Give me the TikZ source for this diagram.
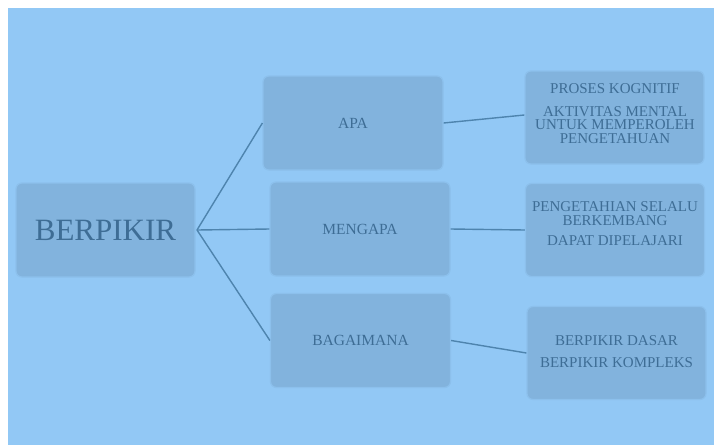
\documentclass[tikz,border=0pt]{standalone}
\usepackage{fontspec}
\setmainfont{Liberation Serif}
\begin{document}
\definecolor{bgblue}{HTML}{92C8F5}
\definecolor{boxfill}{HTML}{82B3DD}
\definecolor{boxedge}{HTML}{8CC0EC}
\definecolor{inktext}{HTML}{3E6D95}
\definecolor{linkline}{HTML}{4E84AE}
\begin{tikzpicture}[x=1pt,y=-1pt,
  card/.style={draw=boxedge,line width=1.2pt,fill=boxfill,rounded corners=6pt,
    inner sep=0pt,text=inktext,align=center},
  midcard/.style={card,minimum width=180pt,minimum height=94pt,font=\fontsize{15.5}{16}\selectfont},
  sidecard/.style={card,minimum width=179pt,minimum height=93pt},
  sidetext/.style={inner sep=0pt,text=inktext,align=center,font=\fontsize{15}{13.5}\selectfont},
  link/.style={draw=linkline,line width=1.4pt}]
\useasboundingbox (0,0) rectangle (719,445);
\fill[white] (0,0) rectangle (719,445);
\fill[bgblue] (8,8) rectangle (714,445);

% root
\node[card,minimum width=179pt,minimum height=94pt,font=\fontsize{31}{34}\selectfont] (root) at (105.5,230) {BERPIKIR};

% middle column
\node[midcard] (apa) at (353,123) {APA};
\node[midcard] (mengapa) at (360,229) {MENGAPA};
\node[midcard] (bagaimana) at (360.5,340.5) {BAGAIMANA};

% right column: boxes, then their texts
\node[sidecard] (r1) at (614.5,117.5) {};
\node[sidecard] (r2) at (615,230) {};
\node[sidecard] (r3) at (616.5,353) {};
\node[sidetext] (r1text) at (615,113.5) {PROSES KOGNITIF\\[9.5pt]AKTIVITAS MENTAL\\UNTUK MEMPEROLEH\\PENGETAHUAN};
\node[sidetext] (r2text) at (615,223.5) {PENGETAHIAN SELALU\\BERKEMBANG\\[6.5pt]DAPAT DIPELAJARI};
\node[sidetext] (r3text) at (616.5,352) {BERPIKIR DASAR\\[8.5pt]BERPIKIR KOMPLEKS};

% connectors
\coordinate (fan) at (197,230);
\draw[link] (fan) -- (apa.west);
\draw[link] (fan) -- (mengapa.west);
\draw[link] (fan) -- (bagaimana.west);
\draw[link] (apa.east) -- ([yshift=2.5pt]r1.west);
\draw[link] (mengapa.east) -- (r2.west);
\draw[link] (bagaimana.east) -- (r3.west);
\end{tikzpicture}
\end{document}
